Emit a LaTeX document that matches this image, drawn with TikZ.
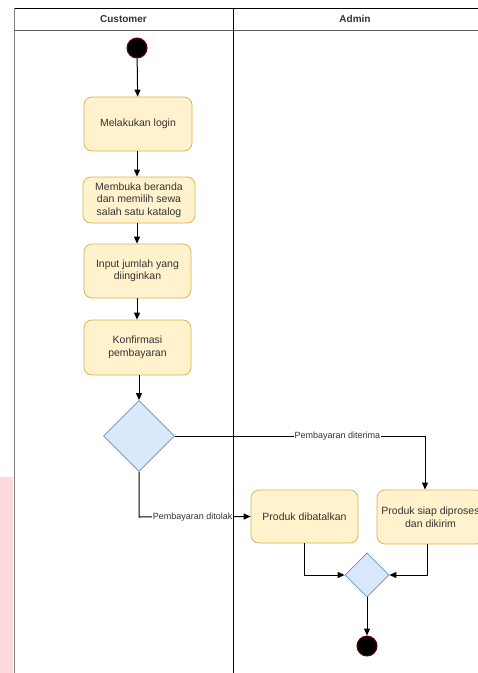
\documentclass[tikz,border=0pt]{standalone}
\usepackage{fontspec}
\setmainfont{Liberation Sans}
\usetikzlibrary{shapes.geometric,arrows.meta}
\definecolor{actfill}{HTML}{FFF2CC}
\definecolor{actdraw}{HTML}{D6B656}
\definecolor{decfill}{HTML}{DAE8FC}
\definecolor{decdraw}{HTML}{6C8EBF}
\definecolor{pinkbg}{HTML}{FFD9D9}
\definecolor{txt}{HTML}{333333}
\tikzset{
  act/.style={draw=actdraw, fill=actfill, line width=0.8pt, rounded corners=8pt, align=center,
    font=\fontsize{10.5}{12.5}\selectfont, text=txt, inner sep=0pt},
  dec/.style={draw=decdraw, fill=decfill, line width=0.8pt, diamond, inner sep=0pt, aspect=1},
  startnode/.style={circle, fill=black, draw=red!40!black, line width=1pt, minimum size=20pt, inner sep=0pt},
  flow/.style={draw=black, line width=1pt, -{Triangle[length=7pt,width=6pt]}},
  lbl/.style={fill=white, font=\fontsize{9}{10}\selectfont, text=txt, inner sep=1pt},
  lane/.style={draw=black, line width=1pt},
  head/.style={font=\bfseries\fontsize{10}{12}\selectfont, text=txt}
}
\begin{document}
\begin{tikzpicture}[x=1pt,y=-1pt]
\useasboundingbox (0,0) rectangle (478,673);
\fill[white] (0,0) rectangle (478,673);
\fill[pinkbg] (0,477) rectangle (13,673);
% swimlanes
\draw[lane] (478,8) -- (14,8);
\draw[lane, draw=gray] (14,8) -- (14,673);
\draw[lane, draw=gray!70!black] (14,30) -- (478,30);
\draw[lane] (233,8) -- (233,673);
\node[head] (hc) at (123.5,19) {Customer};
\node[head] (ha) at (355,19) {Admin};
% nodes
\node[startnode] (start) at (137,48) {};
\node[act, minimum width=108pt, minimum height=54pt] (a1) at (138,124) {Melakukan login};
\node[act, minimum width=112pt, minimum height=46pt] (a2) at (139,200) {Membuka beranda\\dan memilih sewa\\salah satu katalog};
\node[act, minimum width=107pt, minimum height=54pt] (a3) at (137.5,271) {Input jumlah yang\\diinginkan};
\node[act, minimum width=107pt, minimum height=55pt] (a4) at (137.5,347.5) {Konfirmasi\\pembayaran};
\node[dec, minimum size=71pt] (d1) at (139,436) {};
\node[act, minimum width=107pt, minimum height=53pt] (p1) at (304.5,516.5) {Produk dibatalkan};
\node[act, minimum width=107pt, minimum height=54pt] (p2) at (430.5,517) {Produk siap diproses\\dan dikirim};
\node[dec, minimum size=44pt] (d2) at (367,575) {};
\node[startnode] (end) at (367,646) {};
\coordinate (c1) at (425,436);
\coordinate (c2) at (139,517);
\coordinate (c3) at (304,575);
\coordinate (c4) at (427,575);
% edges
\draw[flow] (start) -- (a1);
\draw[flow] (a1.south -| start) -- (a2.north -| start);
\draw[flow] (a2.south -| start) -- (a3.north -| start);
\draw[flow] (a3.south -| start) -- (a4.north -| start);
\draw[flow] (a4.south -| d1) -- (d1);
\draw[flow] (d1.east) -- node[lbl, pos=0.65] {Pembayaran diterima} (c1) -- (p2.north -| c1);
\draw[flow] (d1.south) -- (c2) -- node[lbl, pos=0.48] {Pembayaran ditolak} (p1.west);
\draw[flow] (p1.south -| c3) -- (c3) -- (d2.west);
\draw[flow] (p2.south -| c4) -- (c4) -- (d2.east);
\draw[flow] (d2.south) -- (end);
\end{tikzpicture}
\end{document}
